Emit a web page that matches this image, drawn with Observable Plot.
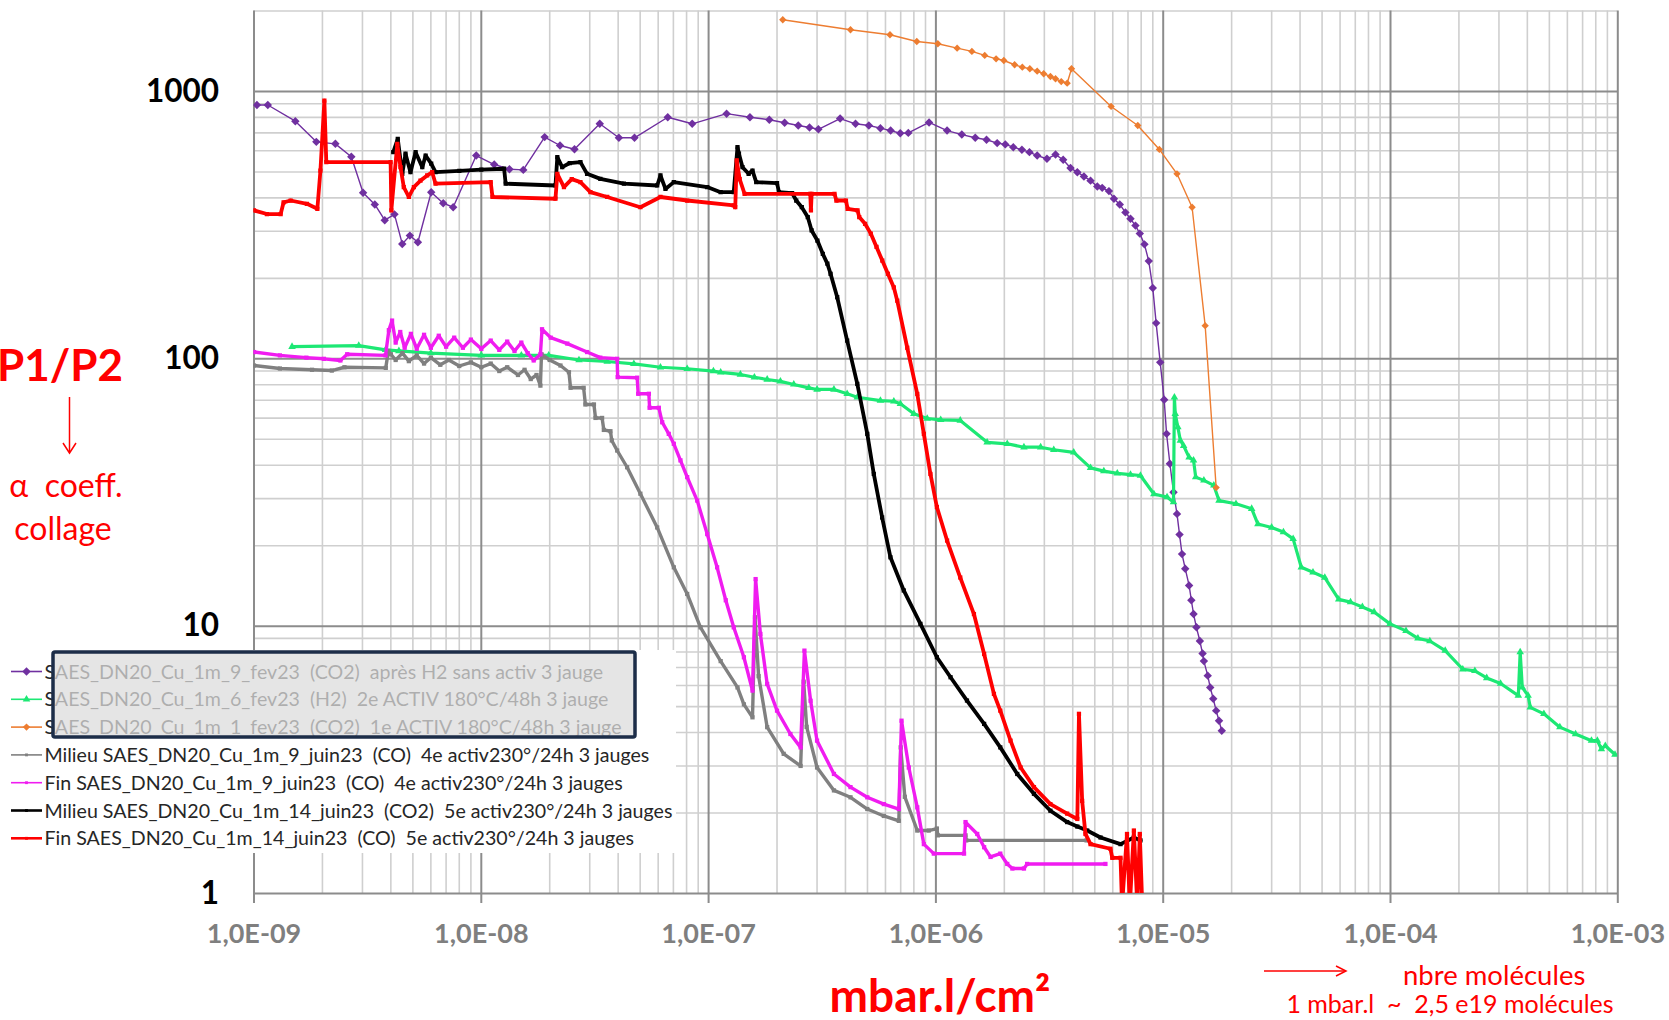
<!DOCTYPE html>
<html>
<head>
<meta charset="utf-8">
<script src="https://cdn.jsdelivr.net/npm/d3@7"></script>
<script src="https://cdn.jsdelivr.net/npm/@observablehq/plot@0.6"></script>
<style>
  html, body { margin: 0; padding: 0; background: #fff; }
  #chart { width: 1669px; height: 1020px; }
</style>
</head>
<body>
<div id="chart"></div>
<script>
// P1/P2 ratio against injected gas quantity (mbar.l/cm²), [quantity, ratio] pairs per run.

// SAES_DN20_Cu_1m_9_fev23 (CO2) après H2 sans activ
const fev23_9_CO2 = [
  [1.03e-9,890],[1.15e-9,890],[1.52e-9,774],[1.88e-9,648],[2.28e-9,637],[2.68e-9,570],[3.02e-9,418],
  [3.40e-9,378],[3.76e-9,330],[4.15e-9,347],[4.49e-9,269],[4.85e-9,289],[5.26e-9,273],[6.02e-9,420],
  [6.80e-9,382],[7.52e-9,369],[9.5e-9,576],[1.14e-8,533],[1.33e-8,512],[1.53e-8,509],[1.90e-8,675],
  [2.22e-8,628],[2.57e-8,608],[3.32e-8,757],[4.03e-8,671],[4.72e-8,671],[6.61e-8,801],[8.47e-8,757],
  [1.20e-7,826],[1.52e-7,801],[1.85e-7,784],[2.16e-7,764],[2.48e-7,746],[2.78e-7,733],[3.04e-7,722],
  [3.79e-7,792],[4.43e-7,757],[5.07e-7,746],[5.70e-7,729],[6.32e-7,714],[6.97e-7,698],[7.56e-7,700],
  [9.33e-7,766],[1.12e-6,714],[1.30e-6,690],[1.49e-6,671],[1.67e-6,660],[1.86e-6,641],[2.02e-6,634],
  [2.19e-6,619],[2.39e-6,605],[2.58e-6,593],[2.79e-6,576],[3.08e-6,560],[3.36e-6,581],[3.63e-6,555],
  [3.91e-6,517],[4.19e-6,499],[4.48e-6,481],[4.79e-6,464],[5.13e-6,441],[5.39e-6,436],[5.77e-6,424],
  [6.07e-6,397],[6.44e-6,378],[6.82e-6,353],[7.18e-6,334],[7.55e-6,315],[7.89e-6,294],[8.27e-6,268],
  [8.64e-6,232],[9.00e-6,184],[9.31e-6,136],[9.70e-6,97],[1.01e-5,70.3],[1.035e-5,52.4],[1.07e-5,40.5],
  [1.11e-5,31.7],[1.15e-5,26.3],[1.18e-5,22.0],[1.21e-5,18.6],[1.25e-5,16.4],[1.30e-5,14.2],[1.33e-5,12.5],
  [1.36e-5,11.1],[1.40e-5,9.9],[1.45e-5,8.8],[1.49e-5,7.9],[1.51e-5,7.4],[1.57e-5,6.53],[1.61e-5,5.9],
  [1.66e-5,5.35],[1.71e-5,4.83],[1.76e-5,4.43],[1.81e-5,4.06]
];

// SAES_DN20_Cu_1m_6_fev23 (H2) 2e ACTIV 180°C/48h
const fev23_6_H2 = [
  [1.47e-9,111],[2.89e-9,112],[3.79e-9,108],[4.34e-9,107],[6e-9,105],[1.0e-8,103],[1.5e-8,103],
  [1.98e-8,103],[2.69e-8,99],[3.58e-8,97.7],[4.69e-8,95.8],[6.14e-8,93.0],[8.05e-8,91.8],[1.05e-7,90.0],
  [1.13e-7,89],[1.38e-7,87.4],[1.59e-7,85.3],[1.81e-7,83.7],[2.07e-7,82.3],[2.37e-7,80.2],[2.76e-7,77.9],
  [3.0e-7,76.8],[3.56e-7,76.8],[4.07e-7,74.0],[4.51e-7,71.8],[5.70e-7,69.8],[6.53e-7,69.4],[6.98e-7,67.9],
  [8.0e-7,62.3],[9.16e-7,59.8],[1.05e-6,59.1],[1.28e-6,58.8],[1.68e-6,48.7],[2.06e-6,48.1],[2.44e-6,46.7],
  [2.89e-6,46.7],[3.30e-6,45.7],[4.04e-6,44.7],[4.79e-6,39.1],[5.48e-6,38.0],[6.28e-6,37.3],[7.18e-6,36.9],
  [7.94e-6,36.6],[9.10e-6,31.2],[1.04e-5,30.4],[1.11e-5,29.1],[1.12e-5,71.8],[1.13e-5,62.3],[1.16e-5,55.5],
  [1.19e-5,49.5],[1.23e-5,47.3],[1.30e-5,42.8],[1.36e-5,41.7],[1.39e-5,36.1],[1.51e-5,35.1],[1.67e-5,33.6],
  [1.76e-5,29.5],[2.09e-5,28.7],[2.45e-5,27.5],[2.61e-5,24.1],[3.0e-5,23.4],[3.38e-5,22.5],[3.73e-5,21.2],
  [4.05e-5,16.6],[4.56e-5,15.9],[5.14e-5,15.2],[5.92e-5,12.6],[6.67e-5,12.3],[7.52e-5,11.8],[8.47e-5,11.3],
  [9.95e-5,10.2],[1.17e-4,9.6],[1.32e-4,9.0],[1.49e-4,8.8],[1.74e-4,8.1],[2.08e-4,6.9],[2.35e-4,6.8],
  [2.65e-4,6.4],[3.05e-4,6.1],[3.65e-4,5.5],[3.72e-4,8.0],[3.80e-4,5.9],[4.03e-4,5.5],[4.12e-4,4.97],
  [4.73e-4,4.70],[5.56e-4,4.19],[6.52e-4,3.95],[7.66e-4,3.73],[8.13e-4,3.73],[8.47e-4,3.47],[8.81e-4,3.57],
  [9.72e-4,3.31]
];

// SAES_DN20_Cu_1m_1_fev23 (CO2) 1e ACTIV 180°C/48h
const fev23_1_CO2 = [
  [2.12e-7,1855],[4.21e-7,1702],[6.28e-7,1630],[8.24e-7,1538],[1.02e-6,1508],[1.24e-6,1452],[1.44e-6,1412],
  [1.64e-6,1364],[1.84e-6,1325],[1.99e-6,1306],[2.22e-6,1259],[2.40e-6,1233],[2.59e-6,1216],[2.79e-6,1191],
  [2.98e-6,1165],[3.19e-6,1138],[3.36e-6,1116],[3.56e-6,1089],[3.78e-6,1074],[3.95e-6,1216],[5.90e-6,879],
  [7.73e-6,746],[9.62e-6,607],[1.15e-5,492],[1.34e-5,369],[1.53e-5,133],[1.71e-5,33]
];

// Milieu SAES_DN20_Cu_1m_9_juin23 (CO) 4e activ230°/24h
const juin23_9_milieu = [
  [1.0e-9,94.4],[1.3e-9,92],[1.8e-9,91],[2.2e-9,90.4],[2.5e-9,93.0],[3.8e-9,92.5],[3.9e-9,107],
  [4.0e-9,104],[4.2e-9,99],[4.5e-9,105],[4.8e-9,98],[5.2e-9,103],[5.6e-9,96],[6.0e-9,101],[6.6e-9,95],
  [7.2e-9,99],[8.0e-9,94],[9.0e-9,97],[1.0e-8,93],[1.1e-8,96],[1.2e-8,90],[1.3e-8,93],[1.45e-8,87],
  [1.55e-8,91],[1.65e-8,84],[1.75e-8,87],[1.82e-8,79.4],[1.84e-8,104],[2.0e-8,99],[2.23e-8,94.4],
  [2.43e-8,89.1],[2.47e-8,77.9],[2.82e-8,77.9],[2.87e-8,67.5],[3.13e-8,67.5],[3.18e-8,60.1],[3.40e-8,60.1],
  [3.46e-8,54.2],[3.70e-8,53.6],[3.75e-8,49.5],[3.96e-8,45.4],[4.38e-8,39.3],[5.01e-8,31.3],[5.94e-8,23.4],
  [7.03e-8,16.6],[8.05e-8,13.2],[9.21e-8,9.9],[1.13e-7,7.4],[1.34e-7,5.9],[1.43e-7,5.1],[1.56e-7,4.56],
  [1.60e-7,10.8],[1.66e-7,6.5],[1.81e-7,4.19],[2.14e-7,3.33],[2.54e-7,3.0],[2.62e-7,6.2],[2.70e-7,4.2],
  [3.0e-7,2.96],[3.56e-7,2.43],[4.21e-7,2.29],[4.99e-7,2.07],[5.90e-7,1.95],[6.87e-7,1.87],[7.0e-7,3.52],
  [7.3e-7,2.3],[8.28e-7,1.72],[9.3e-7,1.72],[1.01e-6,1.75],[1.02e-6,1.65],[1.35e-6,1.65],[1.36e-6,1.58],
  [4.6e-6,1.58]
];

// Fin SAES_DN20_Cu_1m_9_juin23 (CO) 4e activ230°/24h
const juin23_9_fin = [
  [1.0e-9,106],[1.3e-9,103],[1.7e-9,101],[2.03e-9,100],[2.40e-9,98.6],[2.57e-9,104],[3.79e-9,103],
  [3.92e-9,128],[4.05e-9,139],[4.2e-9,115],[4.4e-9,126],[4.6e-9,110],[4.9e-9,124],[5.2e-9,109],[5.6e-9,123],
  [6.0e-9,110],[6.5e-9,122],[7.0e-9,111],[7.6e-9,120],[8.3e-9,110],[9.0e-9,118],[1.0e-8,109],[1.1e-8,117],
  [1.2e-8,108],[1.3e-8,116],[1.4e-8,107],[1.5e-8,115],[1.6e-8,105],[1.7e-8,98.6],[1.82e-8,104],[1.85e-8,129],
  [2.02e-8,120],[2.39e-8,114],[2.92e-8,106],[3.34e-8,101],[3.96e-8,100],[3.98e-8,85.4],[4.85e-8,85],
  [4.9e-8,74],[5.46e-8,74],[5.5e-8,65.6],[6.04e-8,65.6],[6.25e-8,57.9],[6.68e-8,52.4],[7.03e-8,48.1],
  [7.52e-8,41.7],[8.05e-8,36.1],[8.91e-8,29.5],[9.86e-8,22.1],[1.09e-7,16.6],[1.19e-7,12.5],[1.29e-7,9.9],
  [1.43e-7,7.65],[1.56e-7,5.74],[1.61e-7,15.0],[1.69e-7,9.35],[1.81e-7,6.08],[2.0e-7,4.83],[2.29e-7,3.95],
  [2.54e-7,3.52],[2.64e-7,8.1],[2.81e-7,5.26],[3.0e-7,3.73],[3.56e-7,2.80],[4.21e-7,2.50],[4.99e-7,2.29],
  [5.90e-7,2.16],[6.87e-7,2.07],[7.06e-7,4.43],[7.60e-7,2.96],[8.28e-7,2.10],[8.85e-7,1.53],[9.79e-7,1.41],
  [1.33e-6,1.41],[1.35e-6,1.85],[1.52e-6,1.67],[1.63e-6,1.49],[1.74e-6,1.37],[1.92e-6,1.41],[2.06e-6,1.29],
  [2.17e-6,1.24],[2.44e-6,1.24],[2.52e-6,1.29],[5.57e-6,1.29]
];

// Milieu SAES_DN20_Cu_1m_14_juin23 (CO2) 5e activ230°/24h
const juin23_14_milieu = [
  [4.10e-9,593],[4.29e-9,665],[4.49e-9,492],[4.64e-9,585],[4.88e-9,499],[5.14e-9,593],[5.50e-9,521],
  [5.69e-9,576],[6.02e-9,537],[6.29e-9,499],[8.0e-9,505],[1.0e-8,510],[1.26e-8,514],[1.28e-8,452],
  [2.12e-8,445],[2.16e-8,568],[2.27e-8,521],[2.45e-8,540],[2.73e-8,544],[2.92e-8,492],[3.34e-8,471],
  [4.24e-8,452],[5.94e-8,445],[6.14e-8,485],[6.46e-8,432],[7.03e-8,458],[9.86e-8,439],[1.13e-7,420],
  [1.29e-7,420],[1.34e-7,619],[1.36e-7,585],[1.41e-7,521],[1.50e-7,492],[1.56e-7,506],[1.62e-7,458],
  [2.0e-7,454],[2.04e-7,420],[2.33e-7,417],[2.43e-7,391],[2.57e-7,369],[2.73e-7,339],[2.84e-7,302],
  [3.01e-7,277],[3.18e-7,247],[3.33e-7,227],[3.44e-7,208],[3.68e-7,170],[4.07e-7,117],[4.51e-7,80.6],
  [4.99e-7,52.4],[5.33e-7,37.1],[5.80e-7,25.5],[6.31e-7,18.1],[7.22e-7,13.6],[8.55e-7,10.2],[1.01e-6,7.65],
  [1.16e-6,6.44],[1.37e-6,5.27],[1.63e-6,4.31],[1.92e-6,3.52],[2.28e-6,2.80],[2.70e-6,2.36],[3.19e-6,2.04],
  [3.78e-6,1.85],[4.19e-6,1.78],[4.63e-6,1.72],[5.30e-6,1.62],[6.49e-6,1.53],[7.43e-6,1.62],[7.94e-6,1.58]
];

// Fin SAES_DN20_Cu_1m_14_juin23 (CO) 5e activ230°/24h
const juin23_14_fin = [
  [1.0e-9,359],[1.14e-9,348],[1.31e-9,348],[1.35e-9,385],[1.45e-9,391],[1.71e-9,380],[1.90e-9,364],
  [1.96e-9,506],[2.04e-9,925],[2.08e-9,544],[3.99e-9,544],[4.02e-9,359],[4.27e-9,637],[4.41e-9,521],
  [4.56e-9,439],[4.80e-9,403],[5.05e-9,439],[5.40e-9,464],[5.78e-9,485],[6.08e-9,499],[6.29e-9,452],
  [1.10e-8,458],[1.12e-8,403],[2.12e-8,397],[2.16e-8,492],[2.31e-8,439],[2.5e-8,470],[2.73e-8,458],
  [3.02e-8,420],[3.58e-8,403],[5.01e-8,369],[6.14e-8,403],[8.05e-8,391],[1.29e-7,375],[1.31e-7,369],
  [1.33e-7,552],[1.37e-7,470],[1.44e-7,414],[2.80e-7,414],[2.82e-7,359],[2.84e-7,414],[3.58e-7,414],
  [3.65e-7,391],[4.02e-7,391],[4.09e-7,364],[4.52e-7,359],[4.60e-7,339],[4.88e-7,320],[5.17e-7,294],
  [5.48e-7,262],[5.81e-7,233],[6.15e-7,208],[6.53e-7,185],[6.76e-7,165],[7.48e-7,110],[8.28e-7,73.9],
  [8.85e-7,52.4],[9.46e-7,37.1],[1.01e-6,27.9],[1.12e-6,20.9],[1.28e-6,15.2],[1.47e-6,11.1],[1.63e-6,7.87],
  [1.80e-6,5.58],[1.92e-6,4.83],[2.13e-6,3.73],[2.36e-6,2.96],[2.70e-6,2.50],[3.19e-6,2.16],[3.78e-6,1.99],
  [4.19e-6,1.90],[4.26e-6,4.70],[4.40e-6,2.22],[4.55e-6,1.67],[4.79e-6,1.53],[5.86e-6,1.47],[5.97e-6,1.36],
  [6.49e-6,1.36],[6.59e-6,0.9],[6.93e-6,1.67],[7.13e-6,0.9],[7.43e-6,1.72],[7.69e-6,0.9],[7.89e-6,1.67],
  [8.09e-6,0.9]
];

const seriesLabels = [
  "SAES_DN20_Cu_1m_9_fev23  (CO2)  après H2 sans activ 3 jauge",
  "SAES_DN20_Cu_1m_6_fev23  (H2)  2e ACTIV 180°C/48h 3 jauge",
  "SAES_DN20_Cu_1m_1_fev23  (CO2)  1e ACTIV 180°C/48h 3 jauge",
  "Milieu SAES_DN20_Cu_1m_9_juin23  (CO)  4e activ230°/24h 3 jauges",
  "Fin SAES_DN20_Cu_1m_9_juin23  (CO)  4e activ230°/24h 3 jauges",
  "Milieu SAES_DN20_Cu_1m_14_juin23  (CO2)  5e activ230°/24h 3 jauges",
  "Fin SAES_DN20_Cu_1m_14_juin23  (CO)  5e activ230°/24h 3 jauges"
];
const seriesData = [fev23_9_CO2, fev23_6_H2, fev23_1_CO2, juin23_9_milieu, juin23_9_fin, juin23_14_milieu, juin23_14_fin];
const seriesColors = ["#7030a0", "#1de874", "#ed7d31", "#808080", "#f01cf0", "#000000", "#ff0000"];

const xTicks = [1e-9, 1e-8, 1e-7, 1e-6, 1e-5, 1e-4, 1e-3];
const yTicks = [1, 10, 100, 1000];

// drawing style per series: line width, marker symbol and marker radius
const styles = [
  {sw: 1.4, symbol: "diamond2", r: 3.8},
  {sw: 3.2, symbol: "triangle", r: 2.8},
  {sw: 1.4, symbol: "diamond2", r: 3.3},
  {sw: 3.4, symbol: "square", r: 2.4},
  {sw: 3.4, symbol: "square", r: 2.4},
  {sw: 3.8, symbol: "square", r: 2.4},
  {sw: 3.8, symbol: "square", r: 2.4}
];

const minorX = [];
for (let e = -9; e < -3; e++) for (let m = 2; m <= 9; m++) minorX.push(m * Math.pow(10, e));
const minorY = [];
for (let e = 0; e < 4; e++) for (let m = 2; m <= 9; m++) { const v = m * Math.pow(10, e); if (v <= 2000) minorY.push(v); }

const fmtX = d => {
  const e = Math.round(Math.log10(d));
  return "1,0E" + (e < 0 ? "-" : "+") + String(Math.abs(e)).padStart(2, "0");
};

const seriesMarks = seriesData.flatMap((data, i) => [
  Plot.line(data, {x: d => d[0], y: d => d[1], stroke: seriesColors[i], strokeWidth: styles[i].sw, clip: true}),
  Plot.dot(data, {x: d => d[0], y: d => d[1], fill: seriesColors[i], stroke: "none", symbol: styles[i].symbol, r: styles[i].r, clip: true})
]);

const chart = Plot.plot({
  width: 1669,
  height: 1020,
  marginTop: 10.5,
  marginBottom: 127,
  marginLeft: 253.5,
  marginRight: 51.7,
  style: {fontFamily: "Lato, sans-serif", background: "#fff", overflow: "visible"},
  x: {type: "log", domain: [1e-9, 1e-3]},
  y: {type: "log", domain: [1, 2000]},
  marks: [
    Plot.ruleX(minorX, {stroke: "#cfcfcf", strokeWidth: 1.6}),
    Plot.ruleY(minorY, {stroke: "#cfcfcf", strokeWidth: 1.6}),
    Plot.ruleY(yTicks, {stroke: "#8c8c8c", strokeWidth: 2}),
    Plot.ruleX(xTicks, {stroke: "#8c8c8c", strokeWidth: 2, insetBottom: -10}),
    ...seriesMarks,
    Plot.axisY(yTicks, {tickSize: 0, tickPadding: 35, fontSize: 31.5, fontWeight: "bold", fill: "#000", tickFormat: d => String(d), label: null}),
    Plot.axisX(xTicks, {tickSize: 0, tickPadding: 30, fontSize: 27, fontWeight: "bold", fill: "#7f7f7f", tickFormat: fmtX, label: null})
  ]
});

document.getElementById("chart").appendChild(chart);

// legend and annotations drawn on top of the plot
const svg = d3.select(chart);
const red = "#ff0000";
const g = svg.append("g").attr("text-anchor", "start");

// legend panel
g.append("rect").attr("x", 0).attr("y", 650).attr("width", 676).attr("height", 203).attr("fill", "#fff");
const rowY = i => 671.5 + i * 27.8;
seriesLabels.forEach((label, i) => {
  const y = rowY(i);
  g.append("line").attr("x1", 11).attr("x2", 42).attr("y1", y).attr("y2", y)
    .attr("stroke", seriesColors[i]).attr("stroke-width", i >= 5 ? 2.6 : 1.6);
  const symType = styles[i].symbol === "diamond2" ? d3.symbolDiamond2 : styles[i].symbol === "triangle" ? d3.symbolTriangle : d3.symbolSquare;
  const rr = styles[i].symbol === "square" ? 1.6 : styles[i].r;
  g.append("path").attr("d", d3.symbol(symType, Math.PI * rr * rr)()).attr("transform", `translate(26.5,${y})`).attr("fill", seriesColors[i]);
  g.append("text").attr("x", 44.5).attr("y", y).attr("dy", "0.36em").attr("text-anchor", "start")
    .attr("font-family", "Lato, sans-serif").attr("font-size", 19.6).attr("fill", "#262626")
    .style("white-space", "pre").text(label);
});
// grey panel partly covering the first three legend entries
g.append("rect").attr("x", 53).attr("y", 652).attr("width", 582).attr("height", 85).attr("rx", 2)
  .attr("fill", "#dcdcdc").attr("fill-opacity", 0.75).attr("stroke", "#1c2d48").attr("stroke-width", 3.5);

// y-axis annotation
g.append("text").attr("x", 60).attr("y", 381).attr("text-anchor", "middle")
  .attr("font-family", "Lato, sans-serif").attr("font-weight", "bold").attr("font-size", 44).attr("fill", red).text("P1/P2");
g.append("line").attr("x1", 69.5).attr("x2", 69.5).attr("y1", 397).attr("y2", 452).attr("stroke", red).attr("stroke-width", 1.5);
g.append("path").attr("d", "M63,443 L69.5,453 L76,443").attr("fill", "none").attr("stroke", red).attr("stroke-width", 1.5);
g.append("text").attr("x", 66).attr("y", 497).attr("text-anchor", "middle").style("white-space", "pre")
  .attr("font-family", "Lato, sans-serif").attr("font-size", 32).attr("fill", red).text("α  coeff.");
g.append("text").attr("x", 63).attr("y", 540).attr("text-anchor", "middle")
  .attr("font-family", "Lato, sans-serif").attr("font-size", 32).attr("fill", red).text("collage");

// x-axis annotation
g.append("text").attr("x", 940).attr("y", 1012).attr("text-anchor", "middle")
  .attr("font-family", "Lato, sans-serif").attr("font-weight", "bold").attr("font-size", 46).attr("fill", red).text("mbar.l/cm²");
g.append("line").attr("x1", 1264).attr("x2", 1345).attr("y1", 971).attr("y2", 971).attr("stroke", red).attr("stroke-width", 1.5);
g.append("path").attr("d", "M1336,966 L1346,971 L1336,976").attr("fill", "none").attr("stroke", red).attr("stroke-width", 1.5);
g.append("text").attr("x", 1403).attr("y", 985).attr("text-anchor", "start")
  .attr("font-family", "Lato, sans-serif").attr("font-size", 27.5).attr("fill", red).text("nbre molécules");
g.append("text").attr("x", 1450).attr("y", 1013).attr("text-anchor", "middle").style("white-space", "pre")
  .attr("font-family", "Lato, sans-serif").attr("font-size", 25).attr("fill", red).text("1 mbar.l  ~  2,5 e19 molécules");
</script>
</body>
</html>
